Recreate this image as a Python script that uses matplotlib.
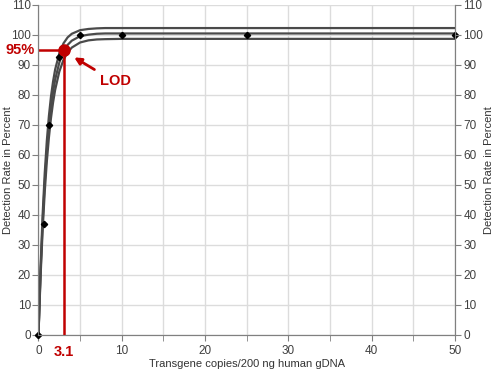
import matplotlib
matplotlib.use('Agg')
import matplotlib.pyplot as plt

plt.rcParams['font.family'] = ['Liberation Sans', 'DejaVu Sans']

# measured points (dilution series)
copies = [0, 0.625, 1.25, 2.5, 5, 10, 25, 50]
detect = [0, 37, 70, 92.5, 100, 100, 100, 100]

# fitted curve + bands
curve_x = [0, 0.25, 0.5, 0.75, 1, 1.25, 1.5, 1.75, 2, 2.5, 3, 3.5, 4, 5, 6, 7, 8, 10, 15, 20, 30, 50]
fit_mid = [0, 21.0, 37.6, 50.8, 61.1, 69.3, 75.9, 81.0, 85.1, 90.8, 94.5, 96.7, 98.1, 99.6, 100.1, 100.4,
           100.5, 100.5, 100.5, 100.5, 100.5, 100.5]
fit_up = [0, 22.6, 40.3, 54.0, 64.7, 73.0, 79.5, 84.5, 88.5, 93.9, 97.2, 99.2, 100.4, 101.6, 102.0, 102.2,
          102.3, 102.3, 102.3, 102.3, 102.3, 102.3]
fit_low = [0, 19.5, 35.1, 47.7, 57.8, 65.8, 72.3, 77.5, 81.7, 87.8, 91.7, 94.2, 95.8, 97.5, 98.2, 98.5,
           98.6, 98.7, 98.7, 98.7, 98.7, 98.7]

lod_x = 3.1
lod_y = 95
red = '#c00000'
tcol = '#404040'

fig = plt.figure(figsize=(4.96, 3.70), dpi=100)
ax = fig.add_axes([0.0776, 0.0946, 0.8397, 0.892])
ax2 = ax.twinx()

for yy in [fit_up, fit_mid, fit_low]:
    ax.plot(curve_x, yy, color='#4a4a4a', lw=1.6, zorder=3)
ax.plot(copies, detect, 'D', color='black', ms=3.2, zorder=4, clip_on=False)

# LOD marks
ax.plot([0, lod_x], [lod_y, lod_y], color=red, lw=1.8, zorder=5)
ax.plot([lod_x, lod_x], [0, lod_y], color=red, lw=1.8, zorder=5)
ax.plot(lod_x, lod_y, 'o', color=red, ms=8, zorder=6)
ax.annotate('', xy=(4.0, 93), xytext=(7.0, 88),
            arrowprops=dict(arrowstyle='-|>', color=red, lw=2, mutation_scale=10))
ax.text(7.4, 84.5, 'LOD', color=red, fontsize=10.5, fontweight='bold', va='center')
ax.text(-0.45, lod_y, '95%', color=red, fontsize=10.5, fontweight='bold', va='center', ha='right')
ax.text(lod_x, -3.5, '3.1', color=red, fontsize=10.5, fontweight='bold', va='top', ha='center')

ax.set_xlim(0, 50)
ax.set_ylim(0, 110)
ax.set_xticks(range(0, 51, 10))
ax.set_xticks(range(5, 50, 10), minor=True)
ax.set_yticks(range(0, 111, 10))
ax.grid(True, which='both', color='#dcdcdc', lw=1)
ax.set_axisbelow(True)
ax.tick_params(axis='y', labelsize=8.5, labelcolor=tcol, color='#808080', length=4, pad=1.5)
ax.tick_params(axis='x', which='both', labelsize=8.5, labelcolor=tcol, color='#808080', length=4)
ax.set_xticklabels(['0', '', '20', '30', '40', '50'])
ax.text(10, -3.5, '10', fontsize=8.5, color=tcol, ha='center', va='top')

ax2.set_ylim(0, 110)
ax2.set_yticks(range(0, 111, 10))
ax2.tick_params(axis='y', labelsize=8.5, labelcolor=tcol, color='#808080', length=4, pad=2)

for a in [ax, ax2]:
    for s in ['left', 'right', 'bottom']:
        a.spines[s].set_color('#808080')
    a.spines['top'].set_visible(False)

ax.set_xlabel('Transgene copies/200 ng human gDNA', fontsize=8, color='#333333', labelpad=1)
fig.text(8 / 496, 0.54, 'Detection Rate in Percent', rotation=90, fontsize=8, color='#333333',
         ha='center', va='center')
fig.text(489 / 496, 0.54, 'Detection Rate in Percent', rotation=90, fontsize=8, color='#333333',
         ha='center', va='center')

fig.savefig('out.png', dpi=100)
